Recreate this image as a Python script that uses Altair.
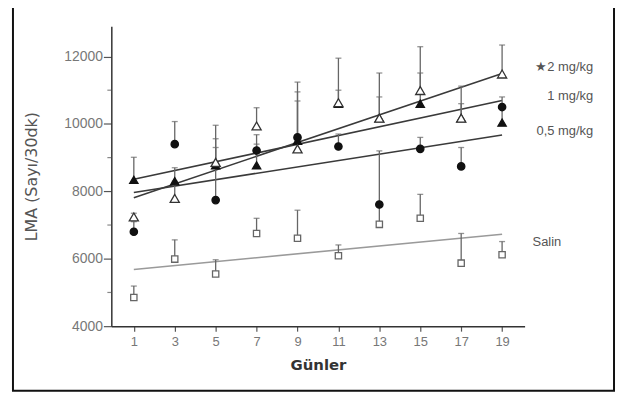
import altair as alt
import pandas as pd

days = [1, 3, 5, 7, 9, 11, 13, 15, 17, 19]
groups = ["Salin", "0,5 mg/kg", "1 mg/kg", "2 mg/kg"]

salin = [4850, 5990, 5550, 6750, 6610, 6090, 7020, 7200, 5870, 6120]
salin_upper = [5190, 6560, 5970, 7200, 7440, 6410, 7600, 7910, 6750, 6510]
dose05 = [6800, 9400, 7740, 9210, 9600, 9330, 7610, 9260, 8740, 10500]
dose05_upper = [7100, 10070, 9960, 9680, 10680, 9700, 9200, 9600, 9300, 10800]
dose1 = [8340, 8300, 8770, 8770, 9500, 10600, 10170, 10600, 10170, 10040]
dose1_upper = [9010, 8700, 9560, 9400, 10950, 11000, 10800, 11510, 10600, 10500]
dose2 = [7240, 7790, 8860, 9940, 9260, 10630, 10170, 10990, 10170, 11480]
dose2_upper = [7350, 8300, 9300, 10480, 11240, 11950, 11510, 12290, 11120, 12340]

x_ticks = [1, 3, 5, 7, 9, 11, 13, 15, 17, 19]
y_ticks = [4000, 6000, 8000, 10000, 12000]
y_minor = [5000, 7000, 9000, 11000]

label_texts = ["\u26052 mg/kg", "1 mg/kg", "0,5 mg/kg"]
label_vals = [11700, 10830, 9800]
salin_label = ["Salin"]
salin_label_val = [6500]

rows = []
for g, vals, ups in [
    ("Salin", salin, salin_upper),
    ("0,5 mg/kg", dose05, dose05_upper),
    ("1 mg/kg", dose1, dose1_upper),
    ("2 mg/kg", dose2, dose2_upper),
]:
    for d, v, u in zip(days, vals, ups):
        rows.append({"group": g, "day": d, "value": v, "upper": u})
df = pd.DataFrame(rows)

xscale = alt.Scale(domain=[-0.1, 20.1], nice=False, zero=False)
yscale = alt.Scale(domain=[4000, 12900], nice=False, zero=False)

x_axis = alt.Axis(values=x_ticks, title="Günler", grid=False, tickSize=5,
                  labelFontSize=13, labelColor="#777", labelFont="Liberation Sans",
                  titleFont="DejaVu Sans", titleFontSize=15, titleFontWeight="bold",
                  titleColor="#333", titlePadding=10, labelPadding=4,
                  domainColor="#333", domainWidth=1.5, tickColor="#555", tickWidth=1.2)
y_axis = alt.Axis(values=y_ticks, title="LMA (Sayı/30dk)", grid=False, tickSize=8,
                  format="d",
                  labelFontSize=14, labelColor="#777", labelFont="Liberation Sans",
                  titleFont="DejaVu Sans", titleFontSize=16, titleColor="#555",
                  titleFontWeight="normal", titlePadding=24, labelPadding=1,
                  domainColor="#333", domainWidth=1.5, tickColor="#555", tickWidth=1.2,
                  orient="left")

X = alt.X("day:Q", scale=xscale, axis=x_axis)
Y = alt.Y("value:Q", scale=yscale, axis=y_axis)

col_scale = alt.Scale(domain=groups, range=["#9a9a9a", "#3a3a3a", "#3a3a3a", "#3a3a3a"])
shape_scale = alt.Scale(domain=groups, range=["square", "circle", "triangle-up", "triangle-up"])
fill_scale = alt.Scale(domain=groups, range=["#ffffff", "#111111", "#111111", "#ffffff"])
stroke_scale = alt.Scale(domain=groups, range=["#666666", "#111111", "#111111", "#333333"])
size_scale = alt.Scale(domain=groups, range=[40, 85, 70, 60])

base = alt.Chart(df)

frame = alt.Chart(pd.DataFrame({"k": [0]})).mark_rect(
    fill=None, stroke="#111", strokeWidth=2
).encode(x=alt.value(-99), x2=alt.value(506), y=alt.value(-20), y2=alt.value(367))

minor = alt.Chart(pd.DataFrame({"value": y_minor})).mark_tick(
    orient="horizontal", size=4, thickness=1.2, color="#555"
).encode(x=alt.value(-2), y=Y)

lines = base.transform_regression(
    "day", "value", groupby=["group"], extent=[1, 19]
).mark_line(strokeWidth=1.6).encode(
    x=X, y=Y, color=alt.Color("group:N", scale=col_scale, legend=None)
)

bars = base.mark_rule(color="#666", strokeWidth=1.3).encode(x=X, y=Y, y2="upper:Q")
caps = base.mark_tick(orient="horizontal", size=6, thickness=1.3, color="#666").encode(
    x=X, y=alt.Y("upper:Q", scale=yscale, axis=y_axis)
)

points = base.mark_point(opacity=1, fillOpacity=1, strokeWidth=1.3).encode(
    x=X, y=Y,
    shape=alt.Shape("group:N", scale=shape_scale, legend=None),
    fill=alt.Fill("group:N", scale=fill_scale, legend=None),
    stroke=alt.Stroke("group:N", scale=stroke_scale, legend=None),
    size=alt.Size("group:N", scale=size_scale, legend=None),
)

lab_df = pd.DataFrame({"t": label_texts, "value": label_vals})
labels = alt.Chart(lab_df).mark_text(
    align="right", baseline="middle", fontSize=13, font="Liberation Sans", color="#555"
).encode(x=alt.value(485), y=Y, text="t:N")

sal_df = pd.DataFrame({"t": salin_label, "value": salin_label_val})
sal_text = alt.Chart(sal_df).mark_text(
    align="left", baseline="middle", fontSize=13, font="Liberation Sans", color="#555"
).encode(x=alt.value(424), y=Y, text="t:N")

chart = alt.layer(frame, minor, lines, bars, caps, points, labels, sal_text).properties(
    width=416, height=302,
    autosize=alt.AutoSizeParams(type="none"),
    padding={"left": 104, "top": 17, "right": 92, "bottom": 66},
).configure_view(stroke=None)

chart.save("out.html", embed_options={"renderer": "svg", "actions": False})
